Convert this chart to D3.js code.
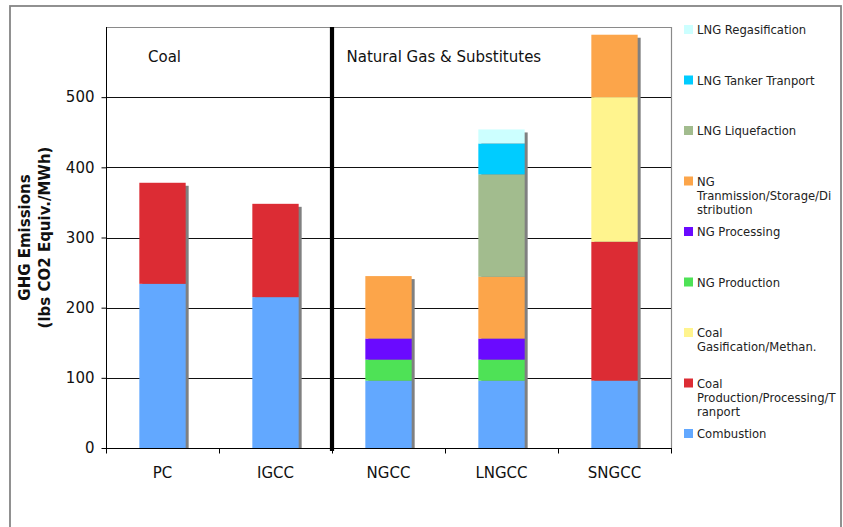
<!DOCTYPE html>
<html>
<head>
<meta charset="utf-8">
<script src="https://cdn.jsdelivr.net/npm/d3@7"></script>
<style>
  html, body { margin: 0; padding: 0; background: #fff; }
  svg { display: block; font-family: "DejaVu Sans", Verdana, sans-serif; }
</style>
</head>
<body>
<svg id="chart" width="843" height="527"></svg>
<script>
// Life-cycle GHG emissions by generation technology (lbs CO2 equiv./MWh)
const categories = ["PC", "IGCC", "NGCC", "LNGCC", "SNGCC"];

const combustion       = [234, 215, 96, 96, 96];
const coalProduction   = [144, 133, 0, 0, 198];
const coalGasification = [0, 0, 0, 0, 206];
const ngProduction     = [0, 0, 30, 30, 0];
const ngProcessing     = [0, 0, 30, 30, 0];
const ngTransmission   = [0, 0, 89, 88, 89];
const lngLiquefaction  = [0, 0, 0, 146, 0];
const lngTanker        = [0, 0, 0, 44, 0];
const lngRegas         = [0, 0, 0, 20, 0];

const yTicks = [0, 100, 200, 300, 400, 500];
const groupLabels = ["Coal", "Natural Gas & Substitutes"];

// stack order, bottom to top
const seriesDefs = [
  { key: "combustion",       label: ["Combustion"],                                     values: combustion,       color: "#62a8ff" },
  { key: "coalProduction",   label: ["Coal", "Production/Processing/T", "ranport"],     values: coalProduction,   color: "#dc2c34" },
  { key: "coalGasification", label: ["Coal", "Gasification/Methan."],                   values: coalGasification, color: "#fff48e" },
  { key: "ngProduction",     label: ["NG Production"],                                  values: ngProduction,     color: "#4ee256" },
  { key: "ngProcessing",     label: ["NG Processing"],                                  values: ngProcessing,     color: "#6a0aff" },
  { key: "ngTransmission",   label: ["NG", "Tranmission/Storage/Di", "stribution"],     values: ngTransmission,   color: "#fca54a" },
  { key: "lngLiquefaction",  label: ["LNG Liquefaction"],                               values: lngLiquefaction,  color: "#a2bc8e" },
  { key: "lngTanker",        label: ["LNG Tanker Tranport"],                            values: lngTanker,        color: "#00ccff" },
  { key: "lngRegas",         label: ["LNG Regasification"],                             values: lngRegas,         color: "#ccffff" }
];

const rows = categories.map((c, i) => {
  const r = { category: c };
  seriesDefs.forEach(s => { r[s.key] = s.values[i]; });
  return r;
});
const keys = seriesDefs.map(s => s.key);
const stacked = d3.stack().keys(keys)(rows);
const totals = rows.map(r => d3.sum(keys, k => r[k]));

const svg = d3.select("#chart");
const plot = { left: 106, right: 671, top: 27, bottom: 448 };

// outer frame (bottom edge runs past the page)
svg.append("rect")
  .attr("x", 10).attr("y", 6).attr("width", 831).attr("height", 560)
  .attr("fill", "#fff").attr("stroke", "#858585").attr("stroke-width", 1.8);

const x = d3.scaleBand().domain(categories).range([plot.left, plot.right]).paddingInner(0).paddingOuter(0);
const y = d3.scaleLinear().domain([0, 600]).range([plot.bottom, plot.top]);
const barW = x.bandwidth() * 0.41;
const barX = c => x(c) + (x.bandwidth() - barW) / 2;

// plot frame: grey top/right edges
svg.append("path")
  .attr("d", `M${plot.left},${plot.top + 0.5}H${plot.right + 0.5}V${plot.bottom}`)
  .attr("fill", "none").attr("stroke", "#8a8a8a").attr("stroke-width", 1.2);

// horizontal gridlines
svg.append("g").selectAll("line")
  .data(yTicks.filter(t => t > 0))
  .join("line")
  .attr("x1", plot.left).attr("x2", plot.right)
  .attr("y1", d => Math.round(y(d)) + 0.5).attr("y2", d => Math.round(y(d)) + 0.5)
  .attr("stroke", "#111").attr("stroke-width", 1);

// drop shadows behind each bar
svg.append("g").selectAll("rect")
  .data(categories)
  .join("rect")
  .attr("x", c => barX(c) + 3)
  .attr("y", (c, i) => y(totals[i]) + 3)
  .attr("width", barW)
  .attr("height", (c, i) => plot.bottom - y(totals[i]) - 3)
  .attr("fill", "#808080");

// stacked segments
const colorOf = Object.fromEntries(seriesDefs.map(s => [s.key, s.color]));
svg.append("g").selectAll("g")
  .data(stacked)
  .join("g")
  .attr("fill", d => colorOf[d.key])
  .selectAll("rect")
  .data(d => d.filter(p => p[1] - p[0] > 0))
  .join("rect")
  .attr("x", p => barX(p.data.category))
  .attr("y", p => y(p[1]))
  .attr("width", barW)
  .attr("height", p => y(p[0]) - y(p[1]));

// y axis
const yAxis = svg.append("g").attr("transform", `translate(${plot.left + 0.5},0)`)
  .call(d3.axisLeft(y).tickValues(yTicks).tickSize(5).tickSizeOuter(0).tickPadding(7));
yAxis.select(".domain").attr("stroke", "#000").attr("d", `M0,${plot.top}V${plot.bottom}`);
yAxis.selectAll(".tick line").attr("stroke", "#000");
yAxis.selectAll(".tick text").attr("font-size", 15).attr("fill", "#111")
  .attr("font-family", "DejaVu Sans, sans-serif");

// x axis with ticks on category boundaries
const xAxisG = svg.append("g").attr("transform", `translate(0,${plot.bottom + 0.5})`);
xAxisG.append("line").attr("x1", plot.left).attr("x2", plot.right + 1)
  .attr("stroke", "#000").attr("stroke-width", 1.2);
const boundaries = categories.map(c => x(c)).concat([plot.right]);
xAxisG.selectAll("line.tk").data(boundaries).join("line").attr("class", "tk")
  .attr("x1", d => Math.round(d) + 0.5).attr("x2", d => Math.round(d) + 0.5)
  .attr("y1", 0).attr("y2", 5).attr("stroke", "#000");
xAxisG.selectAll("text").data(categories).join("text")
  .attr("x", c => x(c) + x.bandwidth() / 2)
  .attr("y", 29.5)
  .attr("text-anchor", "middle").attr("font-size", 15).attr("fill", "#111")
  .text(c => c);

// y axis title
svg.append("text")
  .attr("transform", "translate(30,237.5) rotate(-90)")
  .attr("text-anchor", "middle").attr("font-size", 15).attr("font-weight", "bold").attr("fill", "#111")
  .selectAll("tspan").data(["GHG Emissions", "(lbs CO2 Equiv./MWh)"]).join("tspan")
  .attr("x", 0).attr("dy", (d, i) => i === 0 ? 0 : 19.5).text(d => d);

// divider between coal and gas groups
svg.append("line")
  .attr("x1", x("NGCC")).attr("x2", x("NGCC"))
  .attr("y1", plot.top).attr("y2", plot.bottom + 3)
  .attr("stroke", "#000").attr("stroke-width", 4.2);

// group labels
svg.append("text").attr("x", 148).attr("y", 61.5).attr("font-size", 15).attr("fill", "#111").text(groupLabels[0]);
svg.append("text").attr("x", 346.5).attr("y", 61.5).attr("font-size", 15).attr("fill", "#111").text(groupLabels[1]);

// legend, top entry is the top of the stack
const legendItems = seriesDefs.slice().reverse();
const leg = svg.append("g").selectAll("g").data(legendItems).join("g")
  .attr("transform", (d, i) => `translate(684,${25 + i * 50.5})`);
leg.append("rect").attr("width", 9).attr("height", 9).attr("fill", d => d.color);
leg.append("text").attr("font-size", 11.6).attr("fill", "#222")
  .selectAll("tspan").data(d => d.label).join("tspan")
  .attr("x", 13).attr("y", (t, i) => 9.2 + i * 14).text(t => t);
</script>
</body>
</html>
